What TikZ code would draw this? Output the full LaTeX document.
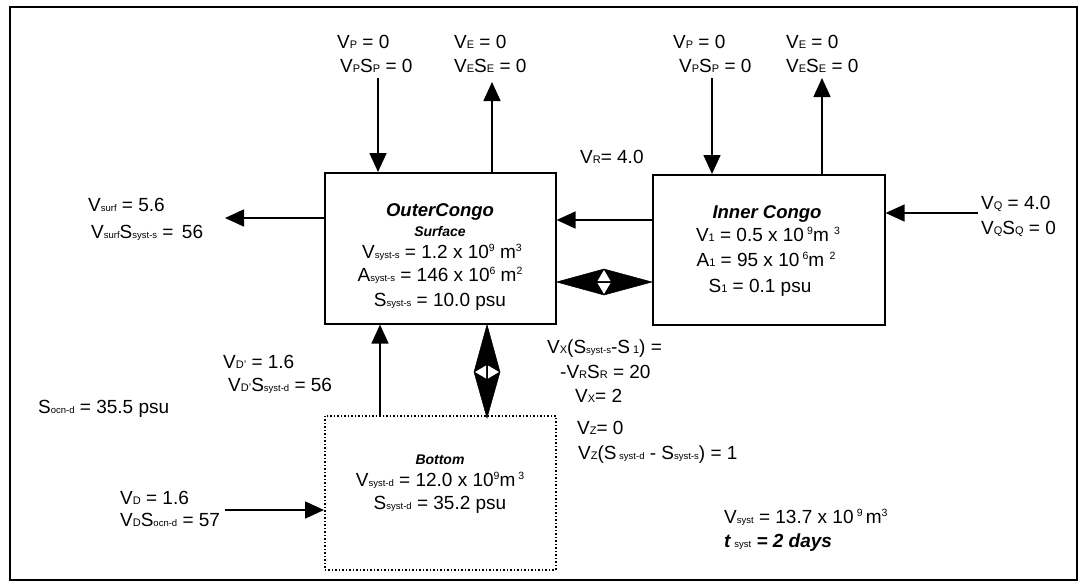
\documentclass[tikz,border=0pt]{standalone}
\usepackage{fontspec}
\setmainfont{Liberation Sans}
\usetikzlibrary{arrows.meta,calc}
\newcommand\lo[1]{{\fontsize{11}{11}\selectfont #1}}
\newcommand\lot[1]{{\fontsize{9.5}{9.5}\selectfont #1}}
\newcommand\hi[1]{\raisebox{7pt}{\fontsize{10.5}{10.5}\selectfont #1}}
\tikzset{
  txt/.style={inner sep=0pt, anchor=base west, font=\fontsize{19}{21}\selectfont},
  ctxt/.style={inner sep=0pt, anchor=base, font=\fontsize{19}{21}\selectfont},
  ttl/.style={inner sep=0pt, anchor=base, font=\fontsize{18.5}{20}\selectfont\bfseries\itshape},
  sttl/.style={inner sep=0pt, anchor=base, font=\fontsize{14}{16}\selectfont\bfseries\itshape},
  box/.style={draw, line width=1.6pt, anchor=north west, inner sep=0pt},
  dbox/.style={draw, line width=1.5pt, dotted, anchor=north west, inner sep=0pt},
  arr/.style={line width=1.6pt, -{Triangle[length=19pt,width=17pt]}},
  fat/.style={fill=black, draw=black, line width=0.5pt},
  hole/.style={fill=white, draw=none},
}
\begin{document}
\begin{tikzpicture}[x=1pt,y=-1pt]
\useasboundingbox (0,0) rectangle (1087,587);
\draw[line width=1.6pt] (10,7) rectangle (1077,580);

% boxes
\node[box, minimum width=231pt, minimum height=151pt] (outer) at (324,172) {};
\node[box, minimum width=232pt, minimum height=150pt] (inner) at (652,174) {};
\node[dbox, minimum width=231pt, minimum height=154pt] (bottom) at (324,415) {};

% outer box text
\node[ttl] (ot1) at (440,216) {OuterCongo};
\node[sttl] (ot2) at (440,236) {Surface};
\node[ctxt] (ot3) at (442,258) {V\lot{syst-s} = 1.2 x 10\hi{9} m\hi{3}};
\node[ctxt] (ot4) at (440,281) {A\lot{syst-s} = 146 x 10\hi{6} m\hi{2}};
\node[ctxt] (ot5) at (440,306) {S\lot{syst-s} = 10.0 psu};

% inner box text
\node[ttl] (it1) at (767,218) {Inner Congo};
\node[ctxt] (it2) at (768,241) {V\lo{1} = 0.5 x 10\,\hi{9}m \hi{3}};
\node[ctxt] (it3) at (766,266) {A\lo{1} = 95 x 10\,\hi{6}m \hi{2}};
\node[ctxt] (it4) at (760,292) {S\lo{1} = 0.1 psu};

% bottom box text
\node[sttl] (bt1) at (440,464) {Bottom};
\node[ctxt] (bt2) at (440,486) {V\lot{syst-d} = 12.0 x 10\hi{9}m\hi{ 3}};
\node[ctxt] (bt3) at (440,509) {S\lot{syst-d} = 35.2 psu};

% top flux labels
\node[txt] (l1) at (337,48) {V\lo{P} = 0};
\node[txt] (l2) at (340,72) {V\lo{P}S\lo{P} = 0};
\node[txt] (l3) at (454,48) {V\lo{E} = 0};
\node[txt] (l4) at (454,72) {V\lo{E}S\lo{E} = 0};
\node[txt] (l5) at (673,48) {V\lo{P} = 0};
\node[txt] (l6) at (679,72) {V\lo{P}S\lo{P} = 0};
\node[txt] (l7) at (786,48) {V\lo{E} = 0};
\node[txt] (l8) at (786,72) {V\lo{E}S\lo{E} = 0};
\node[txt] (l9) at (580,163) {V\lo{R}= 4.0};

% side labels
\node[txt] (q1) at (981,209) {V\lo{Q} = 4.0};
\node[txt] (q2) at (981,234) {V\lo{Q}S\lo{Q} = 0};
\node[txt] (s1) at (88,211) {V\lot{surf} = 5.6};
\node[txt] (s2) at (91,238) {V\lot{surf}S\lot{syst-s} = \,56};
\node[txt] (d1) at (223,368) {V\lo{D'} = 1.6};
\node[txt] (d2) at (228,391) {V\lo{D'}S\lot{syst-d} = 56};
\node[txt] (d3) at (38,413) {S\lot{ocn-d} = 35.5 psu};
\node[txt] (d4) at (120,504) {V\lo{D} = 1.6};
\node[txt] (d5) at (120,526) {V\lo{D}S\lot{ocn-d} = 57};

% exchange labels
\node[txt] (x1) at (547,353) {V\lo{X}(S\lot{syst-s}-S\lo{ 1}) =};
\node[txt] (x2) at (560,378) {-V\lo{R}S\lo{R} = 20};
\node[txt] (x3) at (575,402) {V\lo{X}= 2};
\node[txt] (z1) at (577,434) {V\lo{Z}= 0};
\node[txt] (z2) at (578,459) {V\lo{Z}(S\lot{ syst-d} - S\lot{syst-s}) = 1};

% system totals
\node[txt] (t1) at (724,523) {V\lot{syst} = 13.7 x 10\,\hi{9}\,m\hi{3}};
\node[txt] (t2) at (724,547) {\textbf{\textit{t}}\,\lot{syst} \textbf{\textit{= 2 days}}};

% arrows
\coordinate (p1) at (378,78);
\coordinate (e1) at (492,82);
\coordinate (p2) at (712,78);
\coordinate (e2) at (822,78);
\coordinate (r) at (600,220);
\coordinate (s) at (225,218);
\coordinate (q) at (978,213);
\coordinate (dp) at (380,400);
\coordinate (d) at (225,510);
\draw[arr] (p1) -- (p1 |- outer.north);
\draw[arr] (e1 |- outer.north) -- (e1);
\draw[arr] (p2) -- (p2 |- inner.north);
\draw[arr] (e2 |- inner.north) -- (e2);
\draw[arr] (r -| inner.west) -- (r -| outer.east);
\draw[arr] (s -| outer.west) -- (s);
\draw[arr] (q) -- (q -| inner.east);
\draw[arr] (dp |- bottom.north) -- (dp |- outer.south);
\draw[arr] (d) -- (d -| bottom.west);

% fat double arrows (exchange)
\coordinate (h) at (604,282);
\fill[fat] (h -| outer.east) -- ($(h)+(0,-13)$) -- (h -| inner.west) -- ($(h)+(0,13)$) -- cycle;
\fill[hole] ($(h)+(0,-12)$) -- ($(h)+(-6.5,-1)$) -- ($(h)+(6.5,-1)$) -- cycle;
\fill[hole] ($(h)+(0,12)$) -- ($(h)+(-6.5,1)$) -- ($(h)+(6.5,1)$) -- cycle;
\coordinate (v) at (487,372);
\fill[fat] (v |- outer.south) -- ($(v)+(13,0)$) -- ($(v |- bottom.north)+(0,3)$) -- ($(v)+(-13,0)$) -- cycle;
\fill[hole] ($(v)+(-12,0)$) -- ($(v)+(-1,-6.5)$) -- ($(v)+(-1,6.5)$) -- cycle;
\fill[hole] ($(v)+(12,0)$) -- ($(v)+(1,-6.5)$) -- ($(v)+(1,6.5)$) -- cycle;
\end{tikzpicture}
\end{document}
